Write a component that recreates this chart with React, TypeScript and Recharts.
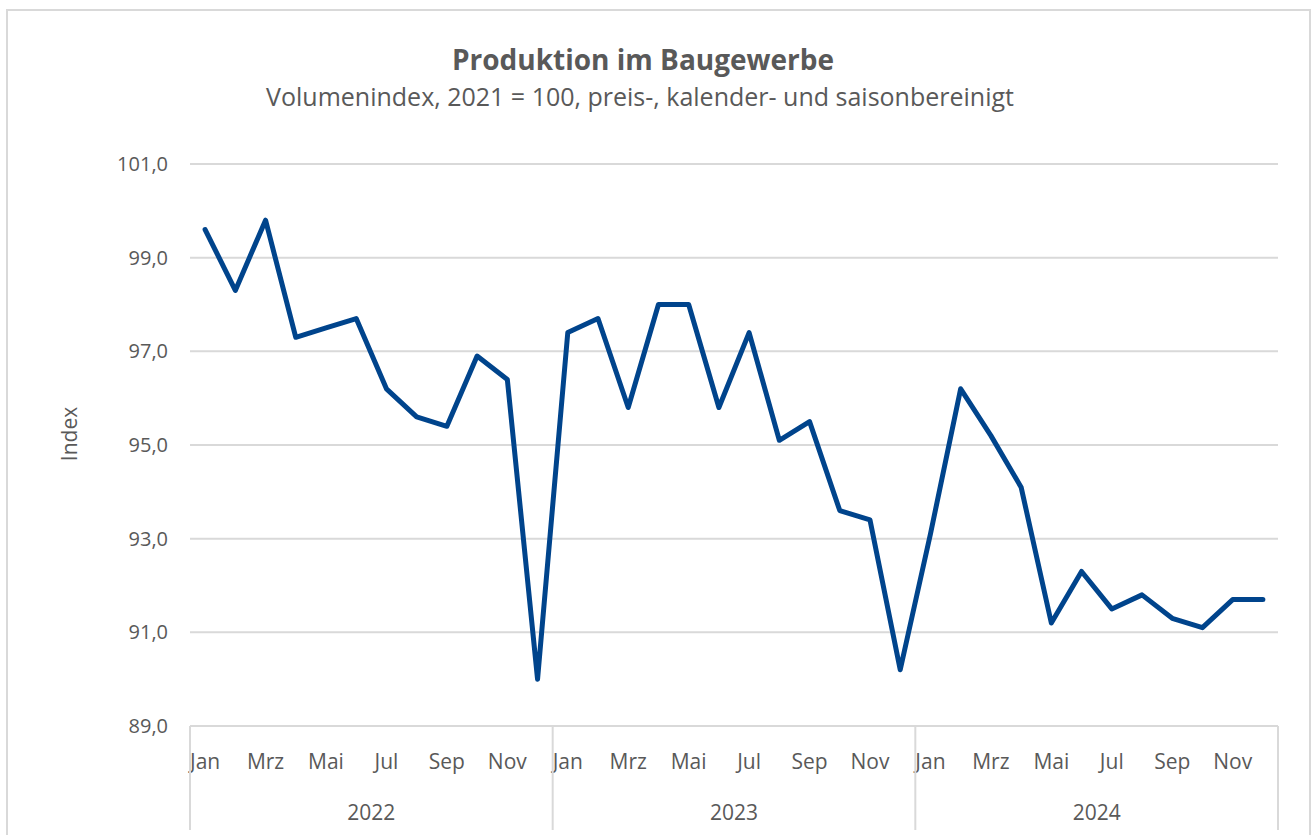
import { LineChart, Line, XAxis, YAxis, CartesianGrid } from "recharts"

const years = ["2022", "2023", "2024"]
const monthNames = ["Jan", "Feb", "Mrz", "Apr", "Mai", "Jun", "Jul", "Aug", "Sep", "Okt", "Nov", "Dez"]

const values2022 = [99.6, 98.3, 99.8, 97.3, 97.5, 97.7, 96.2, 95.6, 95.4, 96.9, 96.4, 90.0]
const values2023 = [97.4, 97.7, 95.8, 98.0, 98.0, 95.8, 97.4, 95.1, 95.5, 93.6, 93.4, 90.2]
const values2024 = [93.1, 96.2, 95.2, 94.1, 91.2, 92.3, 91.5, 91.8, 91.3, 91.1, 91.7, 91.7]

const yTicks = [89, 91, 93, 95, 97, 99, 101]

const seriesByYear = [values2022, values2023, values2024]

const data = years.flatMap((year, yi) =>
  monthNames.map((month, mi) => ({
    key: `${month} ${year}`,
    month,
    year,
    monthIndex: mi,
    value: seriesByYear[yi][mi],
  }))
)

const W = 1314
const H = 835
const PLOT_LEFT = 190
const PLOT_RIGHT = 1278
const HALF = (PLOT_RIGHT - PLOT_LEFT) / data.length / 2

const TEXT = "#595959"
const GRID = "#d9d9d9"
const FONT = "'Open Sans', 'Noto Sans', sans-serif"

function MonthYearTick(props: any) {
  const { x, y, index } = props
  const row = data[index]
  if (!row) return null
  return (
    <g>
      {row.monthIndex % 2 === 0 && (
        <text x={x} y={y + 43} textAnchor="middle" fill={TEXT} fontSize={21} fontFamily={FONT}>
          {row.month}
        </text>
      )}
      {row.monthIndex === 0 && (
        <line x1={x - HALF} x2={x - HALF} y1={y} y2={y + 104} stroke={GRID} strokeWidth={2} />
      )}
      {index === data.length - 1 && (
        <line x1={x + HALF} x2={x + HALF} y1={y} y2={y + 104} stroke={GRID} strokeWidth={2} />
      )}
      {row.monthIndex === 5 && (
        <text x={x + HALF} y={y + 94} textAnchor="middle" fill={TEXT} fontSize={21} fontFamily={FONT}>
          {row.year}
        </text>
      )}
    </g>
  )
}

export default function App() {
  return (
    <div
      style={{
        position: "absolute",
        left: 0,
        top: 0,
        width: W,
        height: H,
        overflow: "hidden",
        background: "#fff",
        fontFamily: FONT,
      }}
    >
      <div
        style={{
          position: "absolute",
          left: 6,
          top: 9,
          width: 1301,
          height: 900,
          border: `2px solid ${GRID}`,
        }}
      />
      <div style={{ position: "absolute", left: 0, top: 0 }}>
        <LineChart width={W} height={H} data={data} margin={{ top: 164, right: W - PLOT_RIGHT, bottom: 0, left: 110 }}>
          <CartesianGrid vertical={false} stroke={GRID} strokeWidth={2} />
          <XAxis
            dataKey="key"
            height={109}
            interval={0}
            padding={{ left: HALF, right: HALF }}
            tickLine={false}
            tickSize={0}
            tickMargin={0}
            axisLine={{ stroke: GRID, strokeWidth: 2 }}
            tick={<MonthYearTick />}
          />
          <YAxis
            width={80}
            domain={[89, 101]}
            ticks={yTicks}
            allowDataOverflow
            axisLine={false}
            tickLine={false}
            tickSize={6}
            tickMargin={16}
            tickFormatter={(v: number) => v.toFixed(1).replace(".", ",")}
            tick={{ fill: TEXT, fontSize: 20, fontFamily: FONT }}
          />
          <Line
            type="linear"
            dataKey="value"
            stroke="#00448c"
            strokeWidth={5}
            strokeLinejoin="round"
            strokeLinecap="round"
            dot={false}
            activeDot={false}
            isAnimationActive={false}
          />
        </LineChart>
      </div>
      <svg
        width={W}
        height={H}
        style={{ position: "absolute", left: 0, top: 0, pointerEvents: "none" }}
      >
        <text x={643} y={70} textAnchor="middle" fill={TEXT} fontSize={28} fontWeight={700} fontFamily={FONT}>
          Produktion im Baugewerbe
        </text>
        <text x={640} y={106} textAnchor="middle" fill={TEXT} fontSize={25} fontFamily={FONT}>
          Volumenindex, 2021 = 100, preis-, kalender- und saisonbereinigt
        </text>
        <text
          x={77}
          y={434}
          transform="rotate(-90, 77, 434)"
          textAnchor="middle"
          fill={TEXT}
          fontSize={21}
          fontFamily={FONT}
        >
          Index
        </text>
      </svg>
    </div>
  )
}
